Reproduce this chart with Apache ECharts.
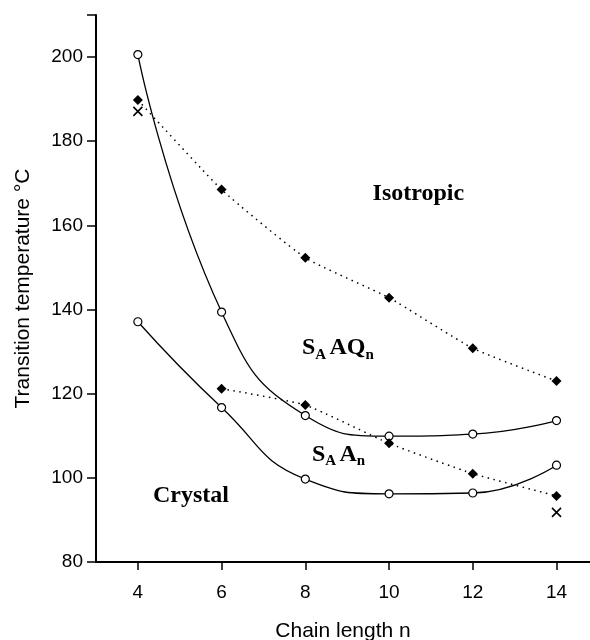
<!DOCTYPE html>
<html>
<head>
	<meta charset="UTF-8" />
	<title>Transition temperature vs chain length</title>
	<style>
		html, body { margin: 0; padding: 0; background: #fff; }
		#chart { width: 590px; height: 640px; }
	</style>
</head>
<body>
	<div id="chart"></div>
	<script type="text/javascript" src="https://cdn.jsdelivr.net/npm/echarts@6/dist/echarts.min.js"></script>
	<script type="text/javascript">
		// values
		const chainN = [4, 6, 8, 10, 12, 14];
		const isoCircle = [200.6, 139.4, 114.8, 109.9, 110.4, 113.6];
		const crystalCircle = [137.1, 116.7, 99.7, 96.2, 96.4, 103.0];
		const isoDiamond = [189.8, 168.5, 152.3, 142.8, 130.8, 123.0];
		const chainN2 = [6, 8, 10, 12, 14];
		const smecticDiamond = [121.2, 117.3, 108.2, 101.0, 95.7];
		const crossN = [4, 14];
		const crossT = [187.1, 91.8];
		const xTicks = [4, 6, 8, 10, 12, 14];

		const pairs = (xs, ys) => xs.map((x, i) => [x, ys[i]]);

		const chart = echarts.init(document.getElementById("chart"));

		const serif = "Liberation Serif";
		const richPhase = {
			b: { fontFamily: serif, fontWeight: "bold", fontSize: 24, color: "#000", verticalAlign: "bottom" },
			s: { fontFamily: serif, fontWeight: "bold", fontSize: 15, color: "#000", verticalAlign: "bottom", padding: [0, 0, -2, 0] }
		};

		function phaseLabel(x, y, text, align) {
			return {
				type: "scatter",
				data: [[x, y]],
				symbolSize: 0,
				silent: true,
				itemStyle: { opacity: 1 },
				z: 5,
				label: {
					show: true,
					position: "inside",
					align: align,
					verticalAlign: "middle",
					color: "#000",
					textBorderWidth: 0,
					formatter: text,
					rich: richPhase
				}
			};
		}

		const option = {
			backgroundColor: "#fff",
			animation: false,
			grid: { left: 96, right: 0, top: 15, bottom: 78, containLabel: false, outerBoundsMode: "none" },
			xAxis: {
				type: "value",
				min: 3,
				max: 14.8,
				name: "Chain length n",
				nameLocation: "middle",
				nameGap: 59,
				nameTextStyle: { fontFamily: "Liberation Sans", fontSize: 21, color: "#000" },
				axisLine: { lineStyle: { color: "#000", width: 2 } },
				axisTick: { show: true, length: 8, customValues: xTicks, lineStyle: { color: "#000", width: 1.5 } },
				axisLabel: { customValues: xTicks, margin: 21, fontFamily: "Liberation Sans", fontSize: 19, color: "#000" },
				splitLine: { show: false }
			},
			yAxis: {
				type: "value",
				min: 80,
				max: 210,
				interval: 20,
				name: "Transition temperature °C",
				nameLocation: "middle",
				nameGap: 62,
				nameTextStyle: { fontFamily: "Liberation Sans", fontSize: 21, color: "#000" },
				axisLine: { show: true, lineStyle: { color: "#000", width: 2 } },
				axisTick: { show: true, length: 9, lineStyle: { color: "#000", width: 1.5 } },
				axisLabel: { margin: 13, fontFamily: "Liberation Sans", fontSize: 19, color: "#000",
					formatter: v => (v > 200 ? "" : v) },
				splitLine: { show: false }
			},
			series: [
				{
					type: "line",
					data: pairs(chainN, isoCircle),
					smooth: 0.5,
					symbol: "circle",
					symbolSize: 8,
					lineStyle: { color: "#000", width: 1.3 },
					itemStyle: { color: "#fff", borderColor: "#000", borderWidth: 1.2 },
					z: 3
				},
				{
					type: "line",
					data: pairs(chainN, crystalCircle),
					smooth: 0.5,
					symbol: "circle",
					symbolSize: 8,
					lineStyle: { color: "#000", width: 1.3 },
					itemStyle: { color: "#fff", borderColor: "#000", borderWidth: 1.2 },
					z: 3
				},
				{
					type: "line",
					data: pairs(chainN, isoDiamond),
					smooth: 0.15,
					symbol: "diamond",
					symbolSize: 10,
					lineStyle: { color: "#000", width: 1.5, type: [1.5, 4.5] },
					itemStyle: { color: "#000" },
					z: 4
				},
				{
					type: "line",
					data: pairs(chainN2, smecticDiamond),
					smooth: 0.15,
					symbol: "diamond",
					symbolSize: 10,
					lineStyle: { color: "#000", width: 1.5, type: [1.5, 4.5] },
					itemStyle: { color: "#000" },
					z: 4
				},
				{
					type: "scatter",
					data: pairs(crossN, crossT),
					symbol: "path://M0,0L10,10M10,0L0,10",
					symbolSize: 9,
					itemStyle: { color: "none", borderColor: "#000", borderWidth: 1.6, opacity: 1 },
					z: 4
				},
				phaseLabel(10.7, 167.6, "{b|Isotropic}", "center"),
				phaseLabel(7.92, 130.8, "{b|S}{s|A} {b|AQ}{s|n}", "left"),
				phaseLabel(8.16, 105.4, "{b|S}{s|A} {b|A}{s|n}", "left"),
				phaseLabel(4.36, 95.7, "{b|Crystal}", "left")
			]
		};

		chart.setOption(option);
	</script>
</body>
</html>
